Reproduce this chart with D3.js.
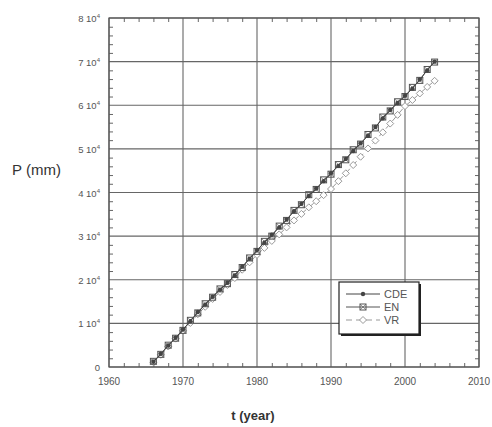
<!DOCTYPE html>
<html>
<head>
<meta charset="utf-8">
<script src="https://cdn.jsdelivr.net/npm/d3@7"></script>
<style>
  body { margin: 0; background: #fff; }
  text { font-family: "Liberation Sans", Arial, sans-serif; }
</style>
</head>
<body>
<div id="chart"></div>
<script>
// years of record
const years = d3.range(1966, 2005);

// cumulative precipitation P (mm)
const cde = [1200, 3000, 4900, 6700, 8600, 10500, 12600, 14300, 16100, 17700,
             19300, 21000, 23000, 24800, 26800, 28500, 30300, 32000, 33800, 35700,
             37400, 39200, 40900, 42600, 44400, 46100, 47700, 49500, 51300, 53000,
             55000, 57000, 58900, 60500, 62200, 63800, 65900, 68000, 70000];
const en  = [1300, 2900, 5000, 6600, 8400, 10700, 12400, 14500, 16000, 17900,
             19100, 21200, 22800, 25000, 26500, 28800, 30000, 32300, 33600, 35900,
             37200, 39500, 40700, 42900, 44200, 46400, 47500, 49800, 51100, 53300,
             54800, 57300, 58700, 60800, 62000, 64100, 65700, 68200, 69900];
const vr  = [1100, 2800, 4700, 6500, 8300, 10100, 12100, 13800, 15600, 17200,
             18800, 20400, 22300, 24000, 25700, 27300, 28900, 30400, 32000, 33600,
             35100, 36600, 38000, 39400, 40800, 42600, 44400, 46300, 48200, 50100,
             51900, 53800, 55800, 57800, 59800, 61200, 62700, 64200, 65600];

const xTicks = [1960, 1970, 1980, 1990, 2000, 2010];
const yTicks = [0, 10000, 20000, 30000, 40000, 50000, 60000, 70000, 80000];

const series = [
  {name: "CDE", values: cde, color: "#444", dash: null, marker: "circle"},
  {name: "EN", values: en, color: "#555", dash: null, marker: "square"},
  {name: "VR", values: vr, color: "#999", dash: "6,4", marker: "diamond"}
];

const W = 492, H = 427;
const margin = {top: 18, right: 13, bottom: 60, left: 109};
const width = W - margin.left - margin.right;
const height = H - margin.top - margin.bottom;

const svg = d3.select("#chart").append("svg")
    .attr("width", W)
    .attr("height", H);

const g = svg.append("g")
    .attr("transform", `translate(${margin.left},${margin.top})`);

const x = d3.scaleLinear().domain([1960, 2010]).range([0, width]);
const y = d3.scaleLinear().domain([0, 80000]).range([height, 0]);

// grid
g.append("g").selectAll("line")
    .data(xTicks)
    .join("line")
    .attr("x1", d => x(d)).attr("x2", d => x(d))
    .attr("y1", 0).attr("y2", height)
    .attr("stroke", "#666").attr("stroke-width", 1.1);
g.append("g").selectAll("line")
    .data(yTicks)
    .join("line")
    .attr("x1", 0).attr("x2", width)
    .attr("y1", d => y(d)).attr("y2", d => y(d))
    .attr("stroke", "#666").attr("stroke-width", 1.1);

// minor ticks pointing inward on all four sides
const xMinor = d3.range(1960, 2011, 2).filter(d => d % 10 !== 0);
const yMinor = d3.range(0, 80001, 2000).filter(d => d % 10000 !== 0);
const tk = 4;
g.append("g").call(d3.axisBottom(x).tickValues(xMinor).tickSize(-tk).tickFormat(""))
    .attr("transform", `translate(0,${height})`);
g.append("g").call(d3.axisTop(x).tickValues(xMinor).tickSize(-tk).tickFormat(""));
g.append("g").call(d3.axisLeft(y).tickValues(yMinor).tickSize(-tk).tickFormat(""));
g.append("g").call(d3.axisRight(y).tickValues(yMinor).tickSize(-tk).tickFormat(""))
    .attr("transform", `translate(${width},0)`);
g.selectAll(".domain").remove();
g.selectAll(".tick line").attr("stroke", "#666");

// frame
g.append("rect")
    .attr("width", width).attr("height", height)
    .attr("fill", "none").attr("stroke", "#555").attr("stroke-width", 1.2);

// tick labels
g.append("g").selectAll("text")
    .data(xTicks)
    .join("text")
    .attr("x", d => x(d))
    .attr("y", height + 18)
    .attr("text-anchor", "middle")
    .attr("font-size", 10)
    .attr("fill", "#555")
    .text(d => d);

const yl = g.append("g").selectAll("text")
    .data(yTicks)
    .join("text")
    .attr("x", -9)
    .attr("y", d => y(d) + 4)
    .attr("text-anchor", "end")
    .attr("font-size", 9.5)
    .attr("fill", "#555");
yl.filter(d => d === 0).text("0");
yl.filter(d => d !== 0).each(function(d) {
  const t = d3.select(this);
  t.append("tspan").text(`${d / 10000} 10`);
  t.append("tspan").attr("dy", -4).attr("font-size", 6).text("4");
});

// axis titles
svg.append("text")
    .attr("x", 12).attr("y", 175)
    .attr("font-size", 15)
    .attr("fill", "#333")
    .text("P (mm)");
svg.append("text")
    .attr("x", 253).attr("y", 420)
    .attr("text-anchor", "middle")
    .attr("font-size", 13)
    .attr("font-weight", "bold")
    .attr("fill", "#333")
    .text("t (year)");

// series
const line = d3.line().x((d, i) => x(years[i])).y(d => y(d));

function drawMarker(sel, s) {
  if (s.marker === "circle") {
    sel.append("circle").attr("r", 2.2).attr("fill", s.color);
  } else if (s.marker === "square") {
    sel.append("rect").attr("x", -3).attr("y", -3).attr("width", 6).attr("height", 6)
        .attr("fill", "none").attr("stroke", s.color).attr("stroke-width", 1);
    sel.append("path").attr("d", "M-3,-3L3,3M-3,3L3,-3")
        .attr("stroke", s.color).attr("stroke-width", 0.6);
  } else {
    sel.append("path").attr("d", "M0,-3.5L3.5,0L0,3.5L-3.5,0Z")
        .attr("fill", "#fff").attr("stroke", s.color).attr("stroke-width", 1);
  }
}

[...series].reverse().forEach(s => {
  g.append("path")
      .datum(s.values)
      .attr("d", line)
      .attr("fill", "none")
      .attr("stroke", s.color)
      .attr("stroke-width", 1)
      .attr("stroke-dasharray", s.dash);
  g.append("g").selectAll("g")
      .data(s.values)
      .join("g")
      .attr("transform", (d, i) => `translate(${x(years[i])},${y(d)})`)
      .each(function() { drawMarker(d3.select(this), s); });
});

// legend
const lg = svg.append("g").attr("transform", "translate(339,282)");
lg.append("rect").attr("x", 2).attr("y", 2).attr("width", 80).attr("height", 52)
    .attr("fill", "#222");
lg.append("rect").attr("width", 80).attr("height", 52)
    .attr("fill", "#fff").attr("stroke", "#222").attr("stroke-width", 1.2);
series.forEach((s, i) => {
  const row = lg.append("g").attr("transform", `translate(0,${12 + i * 13})`);
  row.append("line").attr("x1", 7).attr("x2", 41)
      .attr("stroke", s.color).attr("stroke-width", 1)
      .attr("stroke-dasharray", s.dash);
  const m = row.append("g").attr("transform", "translate(24,0)");
  drawMarker(m, s);
  row.append("text").attr("x", 45).attr("y", 4)
      .attr("font-size", 11).attr("fill", "#555")
      .text(s.name);
});
</script>
</body>
</html>
